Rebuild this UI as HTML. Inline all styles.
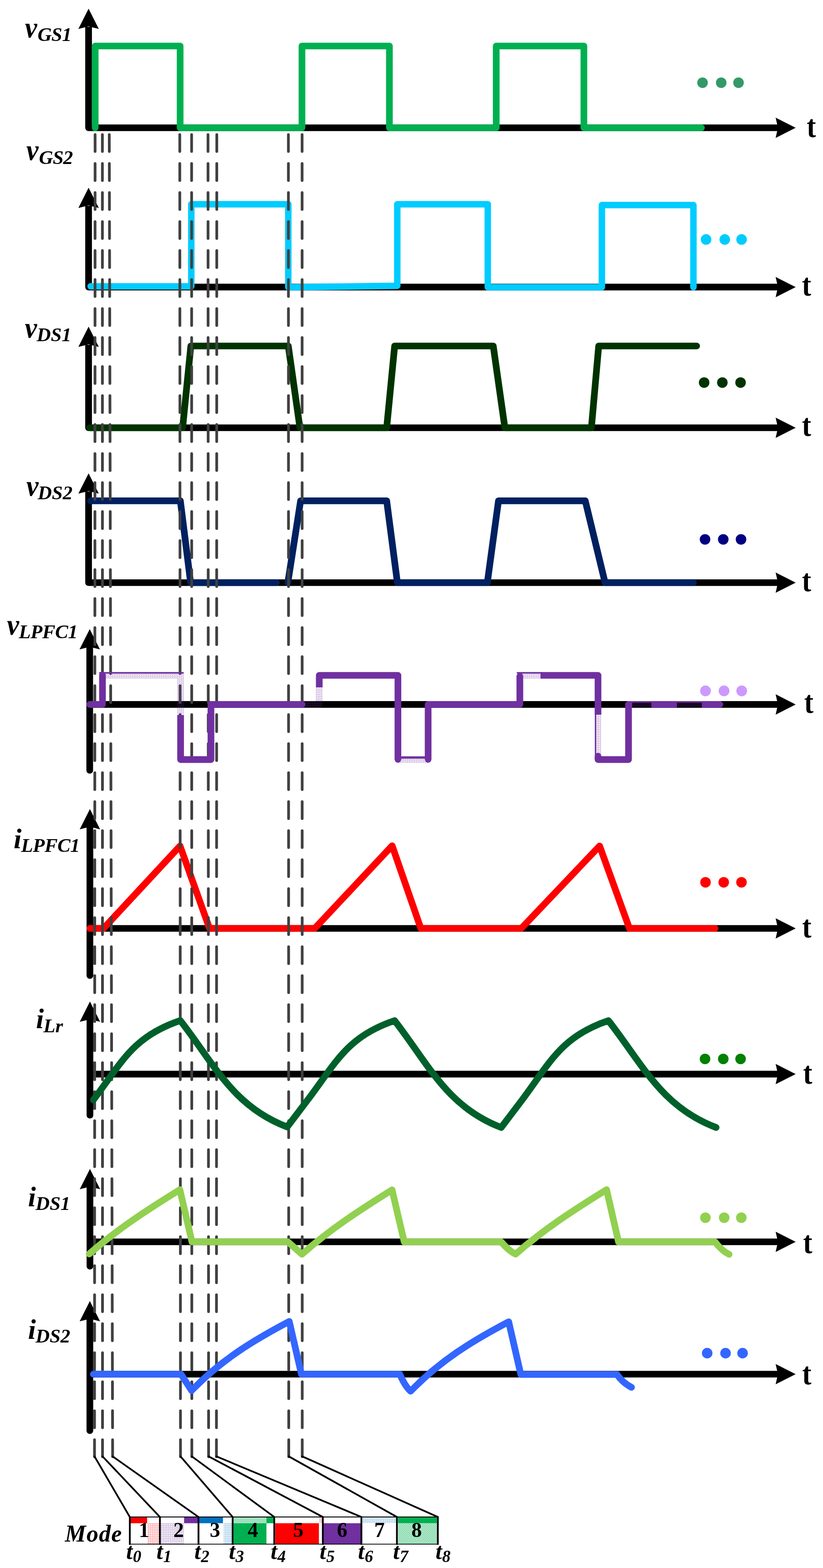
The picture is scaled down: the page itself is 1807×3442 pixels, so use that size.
<!DOCTYPE html>
<html><head><meta charset="utf-8"><title>Waveforms</title>
<style>
html,body{margin:0;padding:0;background:#fff;overflow:hidden;}
svg{display:block;}
text{font-family:"Liberation Serif",serif;fill:#000;}
.bi{font-weight:bold;font-style:italic;}
.t{font-weight:bold;}
</style></head><body>
<svg width="1807" height="3442" viewBox="0 0 1807 3442">
<defs>
<pattern id="dp" width="4" height="4" patternUnits="userSpaceOnUse"><rect x="0" y="0" width="1" height="1" fill="#7030A0"/><rect x="2" y="0" width="1" height="1" fill="#7030A0"/><rect x="2" y="2" width="1" height="1" fill="#7030A0"/></pattern>
<pattern id="dr" width="4" height="4" patternUnits="userSpaceOnUse"><rect x="0" y="0" width="1" height="1" fill="#FF0000"/><rect x="2" y="0" width="1" height="1" fill="#FF0000"/><rect x="2" y="2" width="1" height="1" fill="#FF0000"/></pattern>
<pattern id="db" width="4" height="4" patternUnits="userSpaceOnUse"><rect x="0" y="0" width="1" height="1" fill="#0070C0"/><rect x="2" y="0" width="1" height="1" fill="#0070C0"/><rect x="2" y="2" width="1" height="1" fill="#0070C0"/></pattern>
<pattern id="db2" width="4" height="4" patternUnits="userSpaceOnUse"><rect x="0" y="0" width="1" height="1" fill="#0070C0"/><rect x="1" y="1" width="1" height="1" fill="#0070C0"/><rect x="3" y="1" width="1" height="1" fill="#0070C0"/><rect x="2" y="2" width="1" height="1" fill="#0070C0"/><rect x="1" y="3" width="1" height="1" fill="#0070C0"/><rect x="3" y="3" width="1" height="1" fill="#0070C0"/></pattern>
<pattern id="dg2" width="4" height="4" patternUnits="userSpaceOnUse"><rect x="0" y="0" width="1" height="1" fill="#00B050"/><rect x="1" y="1" width="1" height="1" fill="#00B050"/><rect x="3" y="1" width="1" height="1" fill="#00B050"/><rect x="2" y="2" width="1" height="1" fill="#00B050"/><rect x="1" y="3" width="1" height="1" fill="#00B050"/><rect x="3" y="3" width="1" height="1" fill="#00B050"/></pattern>
<pattern id="dk" width="4" height="4" patternUnits="userSpaceOnUse"><rect x="0" y="0" width="1" height="1" fill="#7030A0"/><rect x="2" y="0" width="1" height="1" fill="#7030A0"/><rect x="2" y="2" width="1" height="1" fill="#7030A0"/></pattern>
</defs>
<rect width="1807" height="3442" fill="#fff"/>
<g id="axes">
<path d="M194.5,59 L194.5,280.5 L1713,280.5" stroke="#000" stroke-width="14.7" stroke-linejoin="round" fill="none"/>
<path d="M194.5,19 L216.9,63.5 L194.5,58 L172.1,63.5 Z" fill="#000"/>
<path d="M1747,280.5 L1703,258.2 L1708,280.5 L1703,302.8 Z" fill="#000"/>
<path d="M194.5,452 L194.5,630.2 L1713,630.2" stroke="#000" stroke-width="14.7" stroke-linejoin="round" fill="none"/>
<path d="M194.5,412 L216.9,456.5 L194.5,451 L172.1,456.5 Z" fill="#000"/>
<path d="M1747,630.2 L1703,607.9000000000001 L1708,630.2 L1703,652.5 Z" fill="#000"/>
<path d="M194.5,757 L194.5,939 L1713,939" stroke="#000" stroke-width="14.7" stroke-linejoin="round" fill="none"/>
<path d="M194.5,717 L216.9,761.5 L194.5,756 L172.1,761.5 Z" fill="#000"/>
<path d="M1747,939 L1703,916.7 L1708,939 L1703,961.3 Z" fill="#000"/>
<path d="M194.5,1079 L194.5,1279 L1713,1279" stroke="#000" stroke-width="14.7" stroke-linejoin="round" fill="none"/>
<path d="M194.5,1039 L216.9,1083.5 L194.5,1078 L172.1,1083.5 Z" fill="#000"/>
<path d="M1747,1279 L1703,1256.7 L1708,1279 L1703,1301.3 Z" fill="#000"/>
<path d="M197,1546.4 L1713,1546.4" stroke="#000" stroke-width="14.7" fill="none"/>
<path d="M1747,1546.4 L1703,1524.1000000000001 L1708,1546.4 L1703,1568.7 Z" fill="#000"/>
<path d="M197,1421 L197,1691" stroke="#000" stroke-width="14.7" stroke-linecap="round" fill="none"/>
<path d="M197,1381 L219.4,1425.5 L197,1420 L174.6,1425.5 Z" fill="#000"/>
<path d="M197,2038 L1713,2038" stroke="#000" stroke-width="14.7" fill="none"/>
<path d="M1747,2038 L1703,2015.7 L1708,2038 L1703,2060.3 Z" fill="#000"/>
<path d="M197.4,1816 L197.4,2141.5" stroke="#000" stroke-width="14.7" stroke-linecap="round" fill="none"/>
<path d="M197.4,1776 L219.8,1820.5 L197.4,1815 L175.0,1820.5 Z" fill="#000"/>
<path d="M200,2357.8 L1713,2357.8" stroke="#000" stroke-width="14.7" fill="none"/>
<path d="M1747,2357.8 L1703,2335.5 L1708,2357.8 L1703,2380.1000000000004 Z" fill="#000"/>
<path d="M197.5,2238.5 L197.5,2448" stroke="#000" stroke-width="14.7" stroke-linecap="round" fill="none"/>
<path d="M197.5,2198.5 L219.9,2243.0 L197.5,2237.5 L175.1,2243.0 Z" fill="#000"/>
<path d="M200,2726 L1713,2726" stroke="#000" stroke-width="14.7" fill="none"/>
<path d="M1747,2726 L1703,2703.7 L1708,2726 L1703,2748.3 Z" fill="#000"/>
<path d="M197.5,2606 L197.5,2779.5" stroke="#000" stroke-width="14.7" stroke-linecap="round" fill="none"/>
<path d="M197.5,2566 L219.9,2610.5 L197.5,2605 L175.1,2610.5 Z" fill="#000"/>
<path d="M200,3016.5 L1713,3016.5" stroke="#000" stroke-width="14.7" fill="none"/>
<path d="M1747,3016.5 L1703,2994.2 L1708,3016.5 L1703,3038.8 Z" fill="#000"/>
<path d="M197.3,2896 L197.3,3140.5" stroke="#000" stroke-width="14.7" stroke-linecap="round" fill="none"/>
<path d="M197.3,2856 L219.70000000000002,2900.5 L197.3,2895 L174.9,2900.5 Z" fill="#000"/>
</g>
<g id="under">
<path d="M209.0,280.5 L209.0,101.0 L395.5,101.0 L395.5,280.5 L663.0,280.5 L663.0,101.0 L855.0,101.0 L855.0,280.5 L1089.5,280.5 L1089.5,101.0 L1282.0,101.0 L1282.0,280.5 L1540.0,280.5" stroke="#00B050" stroke-width="14.7" stroke-linejoin="round" stroke-linecap="round" fill="none" />
<path d="M199.0,628.5 L420.0,628.5 L420.0,448.3 L633.0,448.3 L633.0,630.6 L872.3,627.3 L872.3,448.3 L1071.0,448.3 L1071.0,630.5 L1321.5,630.5 L1321.5,450.2 L1522.5,450.2 L1522.5,630.5" stroke="#00CCFF" stroke-width="14.2" stroke-linejoin="round" stroke-linecap="round" fill="none" />
<path d="M197.0,939.0 L401.0,939.0 L419.0,759.5 L633.0,759.5 L658.5,939.0 L849.0,939.0 L866.5,759.5 L1083.0,759.5 L1108.5,939.0 L1298.5,939.0 L1314.5,759.5 L1529.5,759.5" stroke="#003300" stroke-width="14.7" stroke-linejoin="round" stroke-linecap="round" fill="none" />
<path d="M199.0,1099.3 L396.0,1099.3 L418.5,1279.0 L607.0,1279.0" stroke="#002060" stroke-width="14.7" stroke-linejoin="round" stroke-linecap="round" fill="none" />
<path d="M632.0,1279.0 L660.0,1099.3 L849.0,1099.3 L872.5,1279.0 L1070.0,1279.0 L1094.5,1099.3 L1285.0,1099.3 L1328.5,1279.0 L1522.5,1279.0" stroke="#002060" stroke-width="14.7" stroke-linejoin="round" stroke-linecap="round" fill="none" />
<path d="M197.4,2038.0 L227.3,2038.0 L395.3,1857.0 L460.0,2038.0 L691.0,2038.0 L861.0,1856.5 L924.0,2038.0 L1144.5,2038.0 L1316.5,1857.0 L1382.0,2038.0 L1570.0,2038.0" stroke="#FF0000" stroke-width="14.7" stroke-linejoin="round" stroke-linecap="round" fill="none" />
</g>
<g id="dash">
<path d="M208.8,295.4 L207.5,3198.5" stroke="#404040" stroke-width="6" stroke-linecap="round" stroke-dasharray="37.1 26.57" fill="none"/>
<path d="M224.8,295.4 L225.1,3198.5" stroke="#404040" stroke-width="6" stroke-linecap="round" stroke-dasharray="37.1 26.57" fill="none"/>
<path d="M239.9,295.4 L247.3,3198.5" stroke="#404040" stroke-width="6" stroke-linecap="round" stroke-dasharray="37.1 26.57" fill="none"/>
<path d="M394.7,295.4 L396.3,3198.5" stroke="#404040" stroke-width="6" stroke-linecap="round" stroke-dasharray="37.1 26.57" fill="none"/>
<path d="M420.7,295.4 L421.2,3198.5" stroke="#404040" stroke-width="6" stroke-linecap="round" stroke-dasharray="37.1 26.57" fill="none"/>
<path d="M456.7,295.4 L458,3198.5" stroke="#404040" stroke-width="6" stroke-linecap="round" stroke-dasharray="37.1 26.57" fill="none"/>
<path d="M476,295.4 L475.2,3198.5" stroke="#404040" stroke-width="6" stroke-linecap="round" stroke-dasharray="37.1 26.57" fill="none"/>
<path d="M633.2,295.4 L634,3198.5" stroke="#404040" stroke-width="6" stroke-linecap="round" stroke-dasharray="37.1 26.57" fill="none"/>
<path d="M663.3,295.4 L663.6,3198.5" stroke="#404040" stroke-width="6" stroke-linecap="round" stroke-dasharray="37.1 26.57" fill="none"/>
</g>
<g id="over">
<circle cx="1542.5" cy="181.5" r="11.6" fill="#339966"/>
<circle cx="1583.5" cy="181.5" r="11.6" fill="#339966"/>
<circle cx="1621.5" cy="181.5" r="11.6" fill="#339966"/>
<circle cx="1550.3" cy="525.7" r="11.6" fill="#00CCFF"/>
<circle cx="1591.3" cy="525.7" r="11.6" fill="#00CCFF"/>
<circle cx="1628.2" cy="525.7" r="11.6" fill="#00CCFF"/>
<circle cx="1546" cy="839.8" r="11.6" fill="#003300"/>
<circle cx="1586" cy="839.8" r="11.6" fill="#003300"/>
<circle cx="1626" cy="839.8" r="11.6" fill="#003300"/>
<circle cx="1548" cy="1184" r="11.6" fill="#000080"/>
<circle cx="1588" cy="1184" r="11.6" fill="#000080"/>
<circle cx="1627" cy="1184" r="11.6" fill="#000080"/>
<path d="M197.0,1546.4 L225.0,1546.4 L225.0,1482.5" stroke="#7030A0" stroke-width="14.7" stroke-linejoin="round" stroke-linecap="round" fill="none" />
<path d="M225.0,1482.5 L396.5,1482.5 L396.5,1567.0" stroke="url(#dp)" stroke-width="14.7" stroke-linejoin="round" stroke-linecap="butt" fill="none" />
<path d="M219.0,1477.0 L402.0,1477.0" stroke="#7030A0" stroke-width="3.5" stroke-linejoin="round" stroke-linecap="round" fill="none" />
<path d="M396.5,1569.5 L396.5,1667.3 L463.2,1667.3 L463.2,1546.4 L663.5,1546.4" stroke="#7030A0" stroke-width="14.7" stroke-linejoin="round" stroke-linecap="butt" fill="none" />
<circle cx="663.5" cy="1546.4" r="7" fill="#7030A0"/>
<path d="M664.0,1546.4 L701.0,1546.4 L701.0,1509.0" stroke="url(#dp)" stroke-width="14.7" stroke-linejoin="round" stroke-linecap="butt" fill="none" />
<path d="M701.0,1509.0 L701.0,1482.5 L873.7,1482.5 L873.7,1667.3" stroke="#7030A0" stroke-width="14.7" stroke-linejoin="round" stroke-linecap="butt" fill="none" />
<path d="M873.7,1667.3 L940.0,1667.3" stroke="url(#dp)" stroke-width="14.7" stroke-linejoin="round" stroke-linecap="butt" fill="none" />
<path d="M873.7,1663.0 L940.0,1663.0" stroke="#7030A0" stroke-width="5" stroke-linejoin="round" stroke-linecap="butt" fill="none" />
<path d="M940.0,1667.3 L940.0,1546.4 L1141.4,1546.4 L1141.4,1482.5" stroke="#7030A0" stroke-width="14.7" stroke-linejoin="round" stroke-linecap="butt" fill="none" />
<circle cx="940" cy="1667.3" r="7" fill="#7030A0"/><circle cx="873.7" cy="1667.3" r="7" fill="#7030A0"/>
<path d="M1141.4,1482.5 L1187.0,1482.5" stroke="url(#dp)" stroke-width="14.7" stroke-linejoin="round" stroke-linecap="butt" fill="none" />
<path d="M1136.0,1477.0 L1190.0,1477.0" stroke="#7030A0" stroke-width="3.5" stroke-linejoin="round" stroke-linecap="round" fill="none" />
<circle cx="1141.4" cy="1484.0" r="7" fill="#7030A0"/>
<path d="M1187.0,1482.5 L1313.0,1482.5 L1313.0,1569.0" stroke="#7030A0" stroke-width="14.7" stroke-linejoin="round" stroke-linecap="butt" fill="none" />
<path d="M1313.0,1569.0 L1313.0,1660.0" stroke="url(#dp)" stroke-width="14.7" stroke-linejoin="round" stroke-linecap="butt" fill="none" />
<path d="M1307.5,1569.0 L1307.5,1660.0" stroke="#7030A0" stroke-width="3" stroke-linejoin="round" stroke-linecap="butt" fill="none" />
<path d="M1313.0,1660.0 L1313.0,1667.3 L1380.0,1667.3 L1380.0,1546.4 L1580.5,1546.4" stroke="#7030A0" stroke-width="14.7" stroke-linejoin="round" stroke-linecap="round" fill="none" />
<path d="M1388.0,1547.9 L1430.0,1547.9" stroke="#000" stroke-width="11" stroke-linejoin="round" stroke-linecap="butt" fill="none" />
<path d="M1388.0,1547.9 L1430.0,1547.9" stroke="url(#dk)" stroke-width="11" stroke-linejoin="round" stroke-linecap="butt" fill="none" />
<path d="M1486.0,1547.9 L1541.0,1547.9" stroke="#000" stroke-width="11" stroke-linejoin="round" stroke-linecap="butt" fill="none" />
<path d="M1486.0,1547.9 L1541.0,1547.9" stroke="url(#dk)" stroke-width="11" stroke-linejoin="round" stroke-linecap="butt" fill="none" />
<circle cx="1549" cy="1516.6" r="11.8" fill="#CC99FF"/>
<circle cx="1589.7" cy="1516.6" r="11.8" fill="#CC99FF"/>
<circle cx="1628.5" cy="1516.6" r="11.8" fill="#CC99FF"/>
<circle cx="1549" cy="1936.8" r="11.6" fill="#FF0000"/>
<circle cx="1589" cy="1936.8" r="11.6" fill="#FF0000"/>
<circle cx="1628" cy="1936.8" r="11.6" fill="#FF0000"/>
<path d="M205.1,2414.4 C267.6,2331.8 291.7,2275.3 395.9,2240.3 C470.1,2335.1 511.0,2428.5 630.6,2473.8 L675.6,2414.4 C738.1,2331.8 762.2,2275.4 866.5,2240.4 C940.5,2335.6 981.3,2429.5 1100.5,2475.0 L1145.5,2415.6 C1207.8,2332.4 1231.9,2275.6 1335.8,2240.4 C1410.6,2335.6 1451.8,2429.5 1572.3,2475.0 " stroke="#00602B" stroke-width="14.7" stroke-linejoin="round" stroke-linecap="round" fill="none" />
<circle cx="1548" cy="2324.5" r="11.6" fill="#008000"/>
<circle cx="1588" cy="2324.5" r="11.6" fill="#008000"/>
<circle cx="1626" cy="2324.5" r="11.6" fill="#008000"/>
<path d="M195.9,2752.6 C259.4,2696.9 323.5,2655.7 394.9,2611.5 L421.5,2726 L632,2726 L663,2753.3 C726.1,2697.5 789.9,2656.3 860.8,2612.0 L887.5,2726 L1100.4,2726 Q1116,2745 1132,2753 C1195.7,2697.1 1260.1,2655.8 1331.8,2611.5 L1358,2726 L1570,2726 Q1584,2745 1600.8,2753.5" stroke="#92D050" stroke-width="14.7" stroke-linejoin="round" stroke-linecap="round" fill="none" />
<circle cx="1548.8" cy="2673" r="11.6" fill="#92D050"/>
<circle cx="1590" cy="2673" r="11.6" fill="#92D050"/>
<circle cx="1627.7" cy="2673" r="11.6" fill="#92D050"/>
<path d="M205,3016.5 L397.3,3016.5 L420.7,3052.5 C485.5,2985.6 553.7,2943.7 635.1,2900.8 L661.8,3016.5 L877.7,3016.5 Q890,3044 901.5,3054 C966.6,2986.7 1035.1,2944.6 1116.9,2901.5 L1143.5,3017.2 L1354.6,3017.2 Q1368,3036 1386.5,3045.4" stroke="#3366FF" stroke-width="14.7" stroke-linejoin="round" stroke-linecap="round" fill="none" />
<circle cx="1552.7" cy="2970.4" r="11.6" fill="#3366FF"/>
<circle cx="1593" cy="2970.4" r="11.6" fill="#3366FF"/>
<circle cx="1630.4" cy="2970.4" r="11.6" fill="#3366FF"/>
</g>
<g id="mode">
<path d="M207.5,3197.0 L285,3330" stroke="#000" stroke-width="3.8" fill="none" stroke-linecap="round"/>
<path d="M225.1,3197.0 L351.1,3330" stroke="#000" stroke-width="3.8" fill="none" stroke-linecap="round"/>
<path d="M247.3,3197.0 L435.8,3330" stroke="#000" stroke-width="3.8" fill="none" stroke-linecap="round"/>
<path d="M396.3,3197.0 L510.8,3330" stroke="#000" stroke-width="3.8" fill="none" stroke-linecap="round"/>
<path d="M421.2,3197.0 L602.2,3330" stroke="#000" stroke-width="3.8" fill="none" stroke-linecap="round"/>
<path d="M458,3197.0 L708.8,3330" stroke="#000" stroke-width="3.8" fill="none" stroke-linecap="round"/>
<path d="M475.2,3197.0 L793.5,3330" stroke="#000" stroke-width="3.8" fill="none" stroke-linecap="round"/>
<path d="M634,3197.0 L871.5,3330" stroke="#000" stroke-width="3.8" fill="none" stroke-linecap="round"/>
<path d="M663.6,3197.0 L961.3,3330" stroke="#000" stroke-width="3.8" fill="none" stroke-linecap="round"/>
<rect x="285" y="3330" width="676.3" height="59.6" fill="#fff"/>
<rect x="286.6" y="3331" width="36.4" height="12.7" fill="#FF0000"/>
<rect x="323.7" y="3343.7" width="25.8" height="45.3" fill="url(#dr)"/>
<rect x="352.8" y="3343.7" width="50.7" height="45.3" fill="url(#dp)"/>
<rect x="404.2" y="3331" width="30.0" height="12.7" fill="#7030A0"/>
<rect x="437.5" y="3331" width="52.0" height="12.7" fill="#0070C0"/>
<rect x="490.6" y="3343.7" width="18.8" height="45.3" fill="url(#db)"/>
<rect x="512.8" y="3331" width="72.2" height="12.7" fill="url(#dg2)"/>
<rect x="585" y="3331" width="16.0" height="12.7" fill="#00B050"/>
<rect x="512.8" y="3343.7" width="72.2" height="45.3" fill="#00B050"/>
<rect x="604.3" y="3343.7" width="95.9" height="45.3" fill="#FF0000"/>
<rect x="700.6" y="3331" width="6.4" height="12.7" fill="url(#dr)"/>
<rect x="710.2" y="3343.7" width="82.6" height="45.3" fill="#7030A0"/>
<rect x="796.3" y="3331" width="73.2" height="12.7" fill="url(#db)"/>
<rect x="874" y="3331" width="85.3" height="12.7" fill="#00B050"/>
<rect x="874" y="3343.7" width="85.3" height="45.3" fill="url(#dg2)"/>
<path d="M285,3330 L961.3,3330" stroke="#000" stroke-width="2.2" fill="none"/>
<path d="M285,3389.6 L961.3,3389.6" stroke="#000" stroke-width="1.6" fill="none"/>
<path d="M285,3329 L285,3391.1" stroke="#000" stroke-width="3.9" fill="none"/>
<path d="M351.1,3329 L351.1,3391.1" stroke="#000" stroke-width="3.9" fill="none"/>
<path d="M435.8,3329 L435.8,3391.1" stroke="#000" stroke-width="3.9" fill="none"/>
<path d="M510.8,3329 L510.8,3391.1" stroke="#000" stroke-width="3.9" fill="none"/>
<path d="M602.2,3329 L602.2,3391.1" stroke="#000" stroke-width="3.9" fill="none"/>
<path d="M708.8,3329 L708.8,3391.1" stroke="#000" stroke-width="3.9" fill="none"/>
<path d="M793.5,3329 L793.5,3391.1" stroke="#000" stroke-width="3.9" fill="none"/>
<path d="M871.5,3329 L871.5,3391.1" stroke="#000" stroke-width="3.9" fill="none"/>
<path d="M961.3,3329 L961.3,3391.1" stroke="#000" stroke-width="3.9" fill="none"/>
</g>
<g id="labels">
<text transform="translate(54.8,81.5) scale(0.93,1)" font-size="65" class="bi">v</text>
<text x="82.6" y="89.6" font-size="43" class="bi" letter-spacing="-0.8">GS1</text>
<text transform="translate(1771.15,300.5) scale(0.87,1)" font-size="70" class="t">t</text>
<text transform="translate(57.7,351.2) scale(0.93,1)" font-size="65" class="bi">v</text>
<text x="85.5" y="360" font-size="43" class="bi" letter-spacing="-0.8">GS2</text>
<text transform="translate(1760.85,648.5) scale(0.87,1)" font-size="70" class="t">t</text>
<text transform="translate(54.4,741.2) scale(0.93,1)" font-size="65" class="bi">v</text>
<text x="80.4" y="748.8" font-size="43" class="bi" letter-spacing="0">DS1</text>
<text transform="translate(1760.85,957.3) scale(0.87,1)" font-size="70" class="t">t</text>
<text transform="translate(57.7,1088.3) scale(0.93,1)" font-size="65" class="bi">v</text>
<text x="82.7" y="1096" font-size="43" class="bi" letter-spacing="0">DS2</text>
<text transform="translate(1760.85,1298.3) scale(0.87,1)" font-size="70" class="t">t</text>
<text transform="translate(15.3,1393) scale(0.93,1)" font-size="65" class="bi">v</text>
<text x="41.3" y="1400.8" font-size="43" class="bi" letter-spacing="-0.5">LPFC1</text>
<text transform="translate(1765.65,1565.4) scale(0.87,1)" font-size="70" class="t">t</text>
<text x="29.9" y="1861.7" font-size="62" class="bi">i</text>
<text x="46.2" y="1870" font-size="43" class="bi" letter-spacing="-0.5">LPFC1</text>
<text transform="translate(1761.35,2057.6) scale(0.87,1)" font-size="70" class="t">t</text>
<text x="78.9" y="2257.3" font-size="62" class="bi">i</text>
<text x="95.2" y="2265.6" font-size="43" class="bi" letter-spacing="0">Lr</text>
<text transform="translate(1763.35,2379.3) scale(0.87,1)" font-size="70" class="t">t</text>
<text x="61.6" y="2648.3" font-size="62" class="bi">i</text>
<text x="77.9" y="2656" font-size="43" class="bi" letter-spacing="0">DS1</text>
<text transform="translate(1763.35,2751.2) scale(0.87,1)" font-size="70" class="t">t</text>
<text x="61.6" y="2938.8" font-size="62" class="bi">i</text>
<text x="77.9" y="2946.5" font-size="43" class="bi" letter-spacing="0">DS2</text>
<text transform="translate(1761.15,3038.8) scale(0.87,1)" font-size="70" class="t">t</text>
<text x="316.3" y="3374.3" font-size="46" class="t" text-anchor="middle">1</text>
<text x="392.2" y="3374.3" font-size="46" class="t" text-anchor="middle">2</text>
<text x="472" y="3374.3" font-size="46" class="t" text-anchor="middle">3</text>
<text x="555.3" y="3374.3" font-size="46" class="t" text-anchor="middle">4</text>
<text x="655" y="3374.3" font-size="46" class="t" text-anchor="middle">5</text>
<text x="751.2" y="3374.3" font-size="46" class="t" text-anchor="middle">6</text>
<text x="833.3" y="3374.3" font-size="46" class="t" text-anchor="middle">7</text>
<text x="914.7" y="3374.3" font-size="46" class="t" text-anchor="middle">8</text>
<text x="142.5" y="3384.3" font-size="52" class="bi" letter-spacing="1.2">Mode</text>
<text x="277" y="3422" font-size="51" class="bi">t<tspan font-size="37" dy="7" dx="0.5">0</tspan></text>
<text x="343.5" y="3422" font-size="51" class="bi">t<tspan font-size="37" dy="7" dx="0.5">1</tspan></text>
<text x="426.7" y="3422" font-size="51" class="bi">t<tspan font-size="37" dy="7" dx="0.5">2</tspan></text>
<text x="502.5" y="3422" font-size="51" class="bi">t<tspan font-size="37" dy="7" dx="0.5">3</tspan></text>
<text x="594.3" y="3422" font-size="51" class="bi">t<tspan font-size="37" dy="7" dx="0.5">4</tspan></text>
<text x="701.8" y="3422" font-size="51" class="bi">t<tspan font-size="37" dy="7" dx="0.5">5</tspan></text>
<text x="786" y="3422" font-size="51" class="bi">t<tspan font-size="37" dy="7" dx="0.5">6</tspan></text>
<text x="863" y="3422" font-size="51" class="bi">t<tspan font-size="37" dy="7" dx="0.5">7</tspan></text>
<text x="956.2" y="3422" font-size="51" class="bi">t<tspan font-size="37" dy="7" dx="0.5">8</tspan></text>
</g>
</svg></body></html>
